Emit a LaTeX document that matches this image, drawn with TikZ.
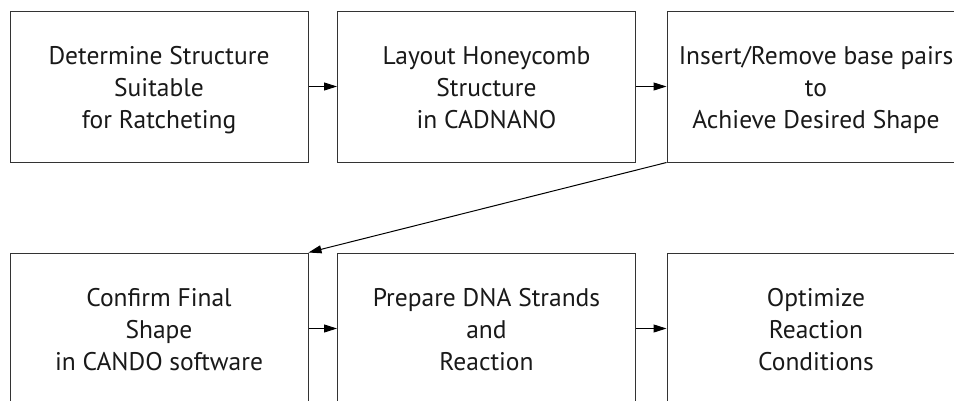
\documentclass[tikz,border=0pt]{standalone}
\usepackage{fontspec}
\setmainfont{PT Sans}
\usetikzlibrary{arrows.meta}

\begin{document}
\begin{tikzpicture}[x=1pt,y=-1pt]
\tikzset{stepbox/.style={draw=black!80,line width=1pt,minimum width=298pt,minimum height=151pt,inner sep=0pt,align=center,font=\fontsize{25.5}{32}\selectfont,text=black!90,text height=84pt,text depth=0pt}}
\tikzset{link/.style={draw=black,line width=1pt,-{Triangle[length=13pt,width=8pt]}}}
\clip (0,0) rectangle (954,400);
\fill[white] (0,0) rectangle (954,400);
% top row
\node [stepbox] (detect) at (159,86.5) {Determine Structure\\Suitable\\for Ratcheting};
\node [stepbox] (layout) at (486.5,86.5) {Layout Honeycomb\\Structure\\in CADNANO};
\node [stepbox] (insert) at (816,86.5) {Insert/Remove base pairs\\to\\Achieve Desired Shape};
% bottom row
\node [stepbox] (confirm) at (159,328.5) {Confirm Final\\Shape\\in CANDO software};
\node [stepbox] (prepare) at (486.5,328.5) {Prepare DNA Strands\\and\\Reaction};
\node [stepbox] (optimize) at (816,328.5) {Optimize\\Reaction\\Conditions};
% connectors
\draw [link] (detect) -- (layout);
\draw [link] (layout) -- (insert);
\draw [link] (insert.south west) -- (confirm.north east);
\draw [link] (confirm) -- (prepare);
\draw [link] (prepare) -- (optimize);
\end{tikzpicture}
\end{document}
